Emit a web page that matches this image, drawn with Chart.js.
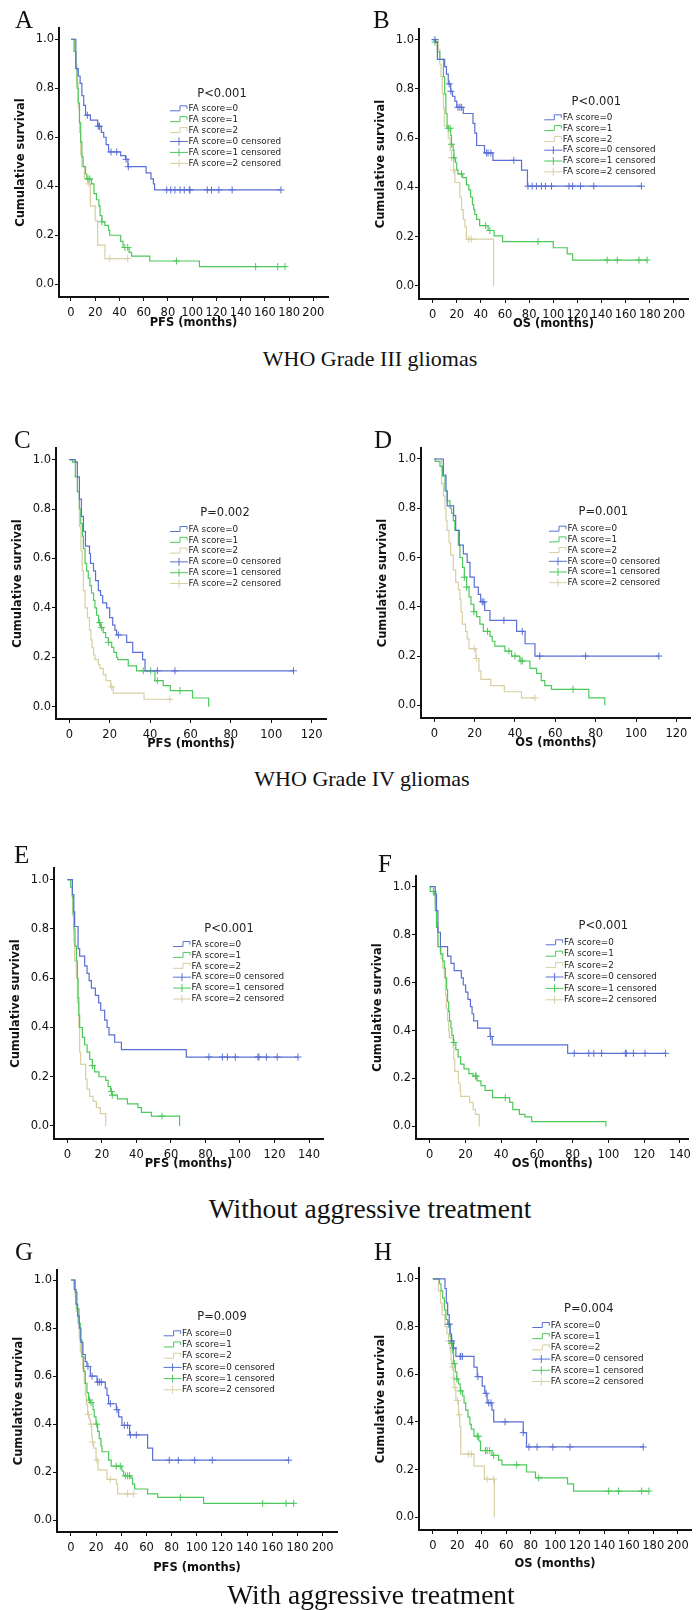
<!DOCTYPE html>
<html>
<head>
<meta charset="utf-8">
<script src="https://cdn.jsdelivr.net/npm/chart.js@4.4.1/dist/chart.umd.min.js"></script>
<style>
  html, body { margin: 0; padding: 0; background: #fff; }
  body { width: 696px; height: 1610px; position: relative; overflow: hidden; }
  canvas { position: absolute; }
  .lbl { position: absolute; font-family: "Liberation Serif", "Times New Roman", serif; line-height: 1; color: #111; white-space: nowrap; }
  .sec { text-align: center; width: 500px; }
</style>
</head>
<body>
<script>
// ---------------- DATA ----------------
const legendLabels = ["FA score=0", "FA score=1", "FA score=2", "FA score=0 censored", "FA score=1 censored", "FA score=2 censored"];
const yTicks = [0, 0.2, 0.4, 0.6, 0.8, 1.0];
const xTicks200 = [0, 20, 40, 60, 80, 100, 120, 140, 160, 180, 200];
const xTicks120 = [0, 20, 40, 60, 80, 100, 120];
const xTicks140 = [0, 20, 40, 60, 80, 100, 120, 140];
const panelLetters = ["A", "B", "C", "D", "E", "F", "G", "H"];
const pValues = ["P<0.001", "P<0.001", "P=0.002", "P=0.001", "P<0.001", "P<0.001", "P=0.009", "P=0.004"];
const xTitles = ["PFS (months)", "OS (months)", "PFS (months)", "OS (months)", "PFS (months)", "OS (months)", "PFS (months)", "OS (months)"];
const yTitle = "Cumulative survival";
const sectionTitles = ["WHO Grade III gliomas", "WHO Grade IV gliomas", "Without aggressive treatment", "With aggressive treatment"];

// Panel A (PFS, grade III)
const A0 = [[0,1],[4,0.88],[6,0.85],[7.5,0.82],[9,0.77],[10.5,0.73],[12,0.69],[16,0.67],[22,0.645],[25,0.62],[27,0.60],[29,0.57],[31,0.54],[41,0.525],[45,0.51],[47,0.48],[62,0.455],[66,0.43],[68,0.41],[69,0.385],[173,0.385]];
const A0c = [13.5,22.5,23.5,33,37.7,45.5,47.3,79,82.3,85.8,90,93.5,97.7,98.2,112.5,116,122,133,173.3];
const A1 = [[0,1],[2.5,0.95],[4,0.88],[5,0.80],[6,0.74],[7,0.66],[8,0.58],[9,0.52],[10,0.48],[12,0.45],[13,0.43],[17,0.41],[19,0.37],[21,0.345],[23,0.32],[24,0.28],[25.5,0.255],[28,0.24],[31,0.22],[32,0.20],[41,0.175],[43,0.15],[48,0.13],[50,0.115],[65,0.095],[106,0.072],[176.6,0.072]];
const A1c = [14,15.5,25.5,44.5,46.8,87,152.4,170.6,176.6];
const A2 = [[0,1],[3,0.95],[4,0.9],[5,0.82],[6,0.72],[7,0.62],[8,0.53],[9,0.48],[11,0.43],[14,0.41],[16,0.32],[20,0.26],[22,0.16],[28,0.105],[46.8,0.105]];
const A2c = [15,32,46.8];

// Panel B (OS, grade III)
const B0 = [[0,1],[2.5,0.99],[4,0.92],[10,0.89],[11.5,0.86],[13,0.82],[15,0.79],[16.5,0.77],[18.5,0.75],[20,0.725],[25.4,0.70],[33.5,0.66],[35,0.62],[36.5,0.57],[43,0.54],[50,0.51],[73.7,0.47],[78.6,0.405],[173,0.405]];
const B0c = [2,13.8,15.2,21,22.6,24,44.7,46,48.3,67.3,79,82.5,86,90.2,93.5,98.5,113,116,122.5,133.5,173];
const B1 = [[0,1],[2,0.99],[4,0.95],[6,0.92],[9,0.85],[10,0.78],[11,0.70],[12,0.64],[15,0.61],[15.7,0.575],[17,0.55],[17.7,0.52],[19,0.50],[20,0.47],[21,0.455],[25,0.44],[28,0.41],[30,0.39],[31.5,0.36],[33,0.33],[34,0.31],[35,0.29],[36.5,0.27],[39,0.245],[46,0.225],[51,0.203],[58,0.18],[100,0.155],[111.5,0.13],[116,0.105],[177.7,0.105]];
const B1c = [2,13,14.5,15.7,17.7,24,44,47.5,87.4,144.6,153,171,177.7];
const B2 = [[0,1],[4.7,0.96],[6,0.9],[7,0.85],[8,0.78],[9,0.72],[9.7,0.65],[13,0.60],[14.5,0.55],[15.7,0.52],[17.4,0.47],[18.5,0.42],[22.6,0.36],[24,0.31],[25.4,0.27],[26.8,0.24],[28,0.19],[50.5,0]];
const B2c = [15.7,17.4,30,32];

// Panel C (PFS, grade IV)
const C0 = [[0,1],[3,0.99],[4,0.93],[5,0.84],[6,0.77],[7,0.71],[8,0.65],[10,0.62],[10.5,0.58],[12,0.55],[13,0.51],[14.4,0.47],[15.5,0.45],[16.5,0.42],[18.5,0.40],[20,0.36],[21.5,0.33],[22.6,0.31],[23.4,0.29],[28.4,0.26],[31.4,0.22],[36.3,0.19],[37.5,0.145],[111,0.145]];
const C0c = [24.3,43.6,52.3,111];
const C1 = [[0,1],[1.6,0.99],[3,0.93],[4,0.87],[5,0.80],[5.7,0.74],[6.5,0.69],[7,0.64],[7.8,0.58],[8.6,0.55],[9.4,0.52],[10.2,0.49],[11,0.46],[12,0.43],[12.7,0.40],[13.5,0.37],[14.5,0.34],[15.5,0.32],[16.8,0.30],[18,0.28],[19.3,0.26],[21,0.24],[22,0.22],[23.4,0.20],[24,0.19],[29.2,0.165],[33.3,0.145],[42.4,0.105],[46.5,0.085],[50,0.065],[61,0.035],[69,0]];
const C1c = [15,16,19.5,36.6,40.3,43.6,54.8];
const C2 = [[0,1],[2.5,0.99],[4,0.87],[5,0.73],[5.8,0.63],[6.4,0.55],[7,0.47],[7.8,0.40],[9,0.36],[10,0.31],[10.7,0.27],[11.3,0.24],[12,0.21],[12.7,0.19],[14.4,0.17],[15.2,0.155],[16.8,0.13],[18.2,0.105],[20.5,0.08],[21.8,0.055],[37,0.03],[49.8,0.03]];
const C2c = [21,49.8];

// Panel D (OS, grade IV)
const D0 = [[0,1],[4.5,0.935],[5.8,0.87],[6.4,0.81],[9.6,0.77],[10.6,0.71],[12.4,0.65],[14.4,0.615],[16.3,0.58],[17.7,0.52],[19.8,0.48],[21.8,0.45],[23,0.42],[25,0.385],[27.6,0.345],[40.8,0.30],[45,0.25],[49.9,0.20],[111.3,0.20]];
const D0c = [23.8,24.6,34.5,43.6,52.3,75,111.3];
const D1 = [[0,1],[0.5,0.99],[2.8,0.97],[4.1,0.93],[5.3,0.87],[6.4,0.83],[7.8,0.80],[8.6,0.78],[9.4,0.75],[10.2,0.71],[11.9,0.65],[12.7,0.60],[14,0.56],[14.9,0.52],[16,0.48],[17.2,0.44],[18.2,0.41],[19.6,0.38],[21,0.36],[22.6,0.33],[24.3,0.30],[27.6,0.28],[28.7,0.26],[30,0.24],[35,0.22],[38.3,0.20],[42.4,0.18],[47.4,0.15],[50.7,0.13],[53,0.10],[54.8,0.08],[58.1,0.065],[76.6,0.03],[84.5,0]];
const D1c = [14.9,16,19.6,26.4,37,40,43,43.6,68.8];
const D2 = [[0,1],[3.6,0.90],[4.5,0.85],[5.3,0.80],[5.8,0.75],[6.3,0.71],[7.3,0.66],[8.1,0.61],[9.4,0.55],[10.6,0.50],[11.9,0.47],[12.7,0.43],[13.2,0.38],[13.9,0.33],[15.5,0.30],[16.3,0.27],[17.2,0.23],[20.6,0.19],[22.1,0.14],[23.1,0.105],[28,0.08],[34.7,0.055],[43.2,0.03],[49.9,0.03]];
const D2c = [19.8,21,49.9];

// Panel E (PFS, without aggressive treatment)
const E0 = [[0,1],[2.9,0.94],[3.7,0.87],[4.2,0.81],[6.2,0.72],[7.1,0.69],[10,0.65],[11.4,0.62],[12.6,0.59],[13.9,0.56],[16.2,0.53],[18.1,0.50],[19.3,0.47],[21.6,0.43],[23,0.40],[24.1,0.37],[27.4,0.34],[31.3,0.31],[68.9,0.28],[133.6,0.28]];
const E0c = [82,89.8,92.7,97.3,110.4,111,115.3,121.6,133.6];
const E1 = [[0,1],[1.9,0.97],[2.9,0.93],[3.3,0.86],[3.9,0.80],[4.4,0.73],[5.2,0.67],[5.8,0.60],[6.2,0.52],[6.6,0.45],[7.1,0.40],[8.7,0.36],[10,0.33],[11.4,0.30],[12.9,0.27],[14.5,0.245],[15.8,0.22],[18.3,0.20],[22.2,0.185],[23.6,0.16],[25.1,0.14],[26,0.125],[29,0.11],[34.8,0.09],[40.9,0.075],[42.9,0.055],[48.7,0.04],[65,0]];
const E1c = [14.5,25.5,26,54.8];
const E2 = [[0,1],[2.9,0.93],[3.3,0.85],[3.7,0.75],[4.2,0.67],[5.2,0.60],[5.8,0.50],[6.6,0.40],[7.1,0.30],[7.7,0.25],[10.6,0.19],[11.4,0.15],[12.9,0.12],[14.9,0.10],[16.8,0.075],[19.1,0.05],[22.2,0]];
const E2c = [];

// Panel F (OS, without aggressive treatment)
const F0 = [[0,1],[3.1,0.97],[3.8,0.90],[4.6,0.81],[6,0.75],[10,0.71],[11.9,0.68],[13.7,0.65],[17.7,0.62],[18.8,0.59],[20.1,0.56],[21.4,0.53],[22.8,0.50],[23.7,0.47],[24.6,0.44],[26.8,0.41],[33.8,0.375],[35,0.34],[77.2,0.305],[132,0.305]];
const F0c = [34.1,80.9,89,91.8,96.2,109.5,110,114,120.5,132];
const F1 = [[0,1],[0.3,0.98],[2.4,0.965],[3.1,0.90],[3.8,0.83],[4.6,0.75],[6,0.72],[7.3,0.69],[8.2,0.66],[8.8,0.62],[9.5,0.57],[10,0.52],[10.6,0.48],[11.1,0.44],[11.9,0.41],[12.4,0.38],[13.3,0.35],[14.6,0.32],[15.9,0.29],[17.3,0.26],[19.2,0.24],[21.9,0.22],[24.3,0.21],[26.5,0.19],[28.7,0.17],[31,0.15],[35.2,0.12],[44.7,0.10],[46.5,0.07],[50.2,0.05],[53.3,0.04],[57.1,0.02],[98.6,0]];
const F1c = [2,13.6,25.6,26,42.3];
const F2 = [[0,1],[2.4,0.97],[3.1,0.93],[3.8,0.85],[4.6,0.75],[6.4,0.70],[7.3,0.66],[8.2,0.62],[8.8,0.55],[9.3,0.49],[10,0.44],[10.6,0.40],[11,0.37],[13.1,0.33],[13.5,0.28],[14,0.23],[16.1,0.18],[17,0.15],[17.3,0.125],[22.4,0.10],[24.3,0.07],[25.6,0.05],[27.7,0]];
const F2c = [];

// Panel G (PFS, with aggressive treatment)
const G0 = [[0,1],[2.6,0.96],[4,0.90],[5.3,0.85],[6.6,0.80],[7.9,0.74],[9.5,0.69],[11.4,0.66],[12.7,0.64],[15.4,0.60],[20.7,0.575],[27.3,0.55],[28.6,0.52],[29.9,0.485],[36,0.46],[37.9,0.43],[40.5,0.395],[46.6,0.355],[60.9,0.30],[64.9,0.25],[173,0.25]];
const G0c = [13.5,16.8,21.2,22.5,24.1,31.3,36.6,42.4,45,47.2,51.9,78.1,85.3,98.3,112.3,173];
const G1 = [[0,1],[3.4,0.95],[4.8,0.88],[6.4,0.82],[7.4,0.75],[8.7,0.68],[10,0.62],[11.4,0.57],[12.7,0.53],[14,0.50],[15.2,0.49],[17.5,0.46],[18.5,0.43],[19.9,0.40],[21.2,0.37],[22.5,0.34],[23.8,0.31],[24.6,0.285],[29.9,0.25],[32,0.225],[40.5,0.205],[41.9,0.185],[47.7,0.175],[49,0.15],[50.6,0.13],[60.9,0.11],[68.9,0.095],[105.4,0.07],[177,0.07]];
const G1c = [14.8,15.9,20.5,36,39.2,43.2,45,46.6,86.9,152.3,170.9,177];
const G2 = [[0,1],[3.4,0.93],[4.2,0.87],[5.3,0.82],[6.6,0.76],[7.4,0.70],[9.3,0.63],[10.6,0.57],[11.4,0.52],[12.2,0.48],[13.2,0.44],[14.5,0.42],[15.4,0.40],[16.5,0.35],[17,0.325],[18,0.30],[19.9,0.25],[21.5,0.21],[28.6,0.17],[36,0.15],[37.1,0.11],[49.8,0.11]];
const G2c = [14,15.9,17.2,20.7,31.3,45,49.8];

// Panel H (OS, with aggressive treatment)
const H0 = [[0,1],[9.9,0.96],[11,0.90],[12.1,0.85],[13.4,0.81],[14.2,0.77],[15.3,0.74],[16.9,0.71],[18.8,0.675],[33.6,0.63],[36.2,0.59],[40.3,0.55],[42.4,0.52],[44.3,0.48],[48.3,0.45],[49.7,0.40],[73.8,0.355],[76.5,0.295],[171.8,0.295]];
const H0c = [13.4,15.5,16.9,22.3,22.8,24.2,36.8,43.5,45.6,47.5,59,73.8,78.5,85.1,98,112,171.8];
const H1 = [[0,1],[5.4,0.98],[6.7,0.95],[8,0.92],[9.4,0.87],[10.7,0.83],[12.1,0.81],[14,0.76],[14.8,0.73],[16.1,0.69],[16.9,0.645],[18.3,0.61],[19.6,0.58],[20.9,0.56],[22.3,0.53],[24.2,0.51],[25.5,0.48],[26.8,0.45],[28.7,0.42],[30.3,0.39],[31.4,0.37],[33.6,0.34],[37.6,0.32],[38.9,0.28],[48.3,0.26],[53.7,0.24],[56.4,0.22],[76.5,0.19],[83.8,0.165],[110,0.14],[114.9,0.11],[176.4,0.11]];
const H1c = [12.6,15.3,17.5,19.6,22.8,36.2,37,43,44.3,46.4,49.7,68.5,86.4,143.6,151.7,170.5,176.4];
const H2 = [[0,1],[4.6,0.95],[6.2,0.90],[7.5,0.85],[9.9,0.80],[11.5,0.77],[12.9,0.74],[14,0.70],[14.8,0.66],[15.6,0.63],[16.9,0.585],[17.4,0.545],[18.8,0.49],[20.9,0.43],[22,0.38],[22.8,0.265],[33.6,0.215],[42.1,0.16],[50.2,0]];
const H2c = [12.9,16,17,18,20.1,21.5,29,31.4,44.3,49.7];

// ---------------- STYLE / LAYOUT ----------------
const colors = ["#5a6fd4", "#4cc95a", "#d8cfa3"];
const FONT = '"DejaVu Sans", Verdana, sans-serif';
const layout = [
  {curves:[A0,A1,A2], cens:[A0c,A1c,A2c], xt:xTicks200, xMin:-9.9, xMax:212.1, yMin:-0.052, yMax:1.046, L:59, T:28, R:328, B:297, gap:25, lx:170, ly:108.3, ldy:10.9, px:222, py:94, letter:[15,28.3]},
  {curves:[B0,B1,B2], cens:[B0c,B1c,B2c], xt:xTicks200, xMin:-11.25, xMax:211.6, yMin:-0.053, yMax:1.043, L:418.7, T:29, R:688, B:299, gap:24, lx:544, ly:117.3, ldy:10.8, px:596, py:101.7, letter:[373,28.3]},
  {curves:[C0,C1,C2], cens:[C0c,C1c,C2c], xt:xTicks120, xMin:-6.58, xMax:127.1, yMin:-0.05, yMax:1.047, L:56, T:448.3, R:326, B:719, gap:24, lx:170, ly:529.3, ldy:10.8, px:225, py:513.3, letter:[14,448.3]},
  {curves:[D0,D1,D2], cens:[D0c,D1c,D2c], xt:xTicks120, xMin:-6.59, xMax:127.1, yMin:-0.0515, yMax:1.0446, L:420.7, T:448.3, R:690.7, B:718.7, gap:24, lx:548.7, ly:529, ldy:10.7, px:603, py:512.7, letter:[374,448.3]},
  {curves:[E0,E1,E2], cens:[E0c,E1c,E2c], xt:xTicks140, xMin:-7.76, xMax:148.1, yMin:-0.0528, yMax:1.0476, L:54.3, T:868.3, R:323.3, B:1139, gap:24, lx:173.3, ly:944.3, ldy:10.9, px:229.3, py:929.3, letter:[14,863.3]},
  {curves:[F0,F1,F2], cens:[F0c,F1c,F2c], xt:xTicks140, xMin:-7.67, xMax:144.8, yMin:-0.0525, yMax:1.0446, L:415.7, T:876, R:694, B:1139.3, gap:24, lx:545.3, ly:942.3, ldy:11.4, px:603, py:926, letter:[378,871.7]},
  {curves:[G0,G1,G2], cens:[G0c,G1c,G2c], xt:xTicks200, xMin:-11.1, xMax:211.4, yMin:-0.049, yMax:1.0417, L:56.7, T:1270, R:336.7, B:1531.7, gap:35, lx:163.3, ly:1333.3, ldy:11.2, px:221.7, py:1316.7, letter:[15,1260]},
  {curves:[H0,H1,H2], cens:[H0c,H1c,H2c], xt:xTicks200, xMin:-11.3, xMax:210.8, yMin:-0.0534, yMax:1.046, L:419, T:1268.3, R:694.7, B:1530, gap:33, lx:532.3, ly:1325.3, ldy:11.2, px:588.7, py:1309.3, letter:[374,1260]}
];
const sectionPos = [[370, 366, 22], [362, 786.7, 22], [370, 1218.3, 27.5], [371, 1604, 27.5]];

// survival value of a step curve at time t (for placing censor marks on the curve)
function survivalAt(curve, t) {
  let s = curve[0][1];
  for (const [ti, si] of curve) { if (ti <= t) s = si; else break; }
  return s;
}

const kmLegend = {
  id: 'kmLegend',
  afterDraw(chart, args, o) {
    const ctx = chart.ctx;
    ctx.save();
    ctx.fillStyle = '#222';
    ctx.textBaseline = 'middle';
    ctx.font = '11.5px ' + FONT;
    ctx.textAlign = 'center';
    ctx.fillText(o.p, o.px - o.ox, o.py - o.oy);
    ctx.font = '8.8px ' + FONT;
    ctx.textAlign = 'left';
    legendLabels.forEach((lab, i) => {
      const x = o.lx - o.ox, y = o.ly - o.oy + i * o.ldy;
      ctx.strokeStyle = colors[i % 3];
      ctx.lineWidth = 1;
      ctx.beginPath();
      if (i < 3) {
        ctx.moveTo(x, y + 2.5); ctx.lineTo(x + 10, y + 2.5); ctx.lineTo(x + 10, y - 2.5);
        ctx.lineTo(x + 17, y - 2.5); ctx.lineTo(x + 17, y + 0.5);
      } else {
        ctx.moveTo(x, y + 0.5); ctx.lineTo(x + 18, y + 0.5);
        ctx.moveTo(x + 9, y - 3.5); ctx.lineTo(x + 9, y + 4.5);
      }
      ctx.stroke();
      ctx.fillStyle = '#222';
      ctx.fillText(lab, x + 18.5, y + 0.5);
    });
    ctx.restore();
  }
};

layout.forEach((P, k) => {
  const cl = P.L - 50, ct = P.T - 12;
  const cr = Math.min(696, P.R + 6);
  const xh = P.gap + 15;
  const cw = Math.round(cr - cl), ch = Math.round(P.B + xh - ct);
  const cv = document.createElement('canvas');
  cv.width = cw; cv.height = ch;
  cv.style.left = cl + 'px'; cv.style.top = ct + 'px';
  cv.style.width = cw + 'px'; cv.style.height = ch + 'px';
  document.body.appendChild(cv);

  const datasets = [];
  P.curves.forEach((c, i) => {
    datasets.push({
      data: c.map(([x, y]) => ({x, y})),
      borderColor: colors[i], borderWidth: 1.2, pointRadius: 0, stepped: 'before',
      fill: false, tension: 0, order: i
    });
  });
  P.cens.forEach((c, i) => {
    datasets.push({
      data: c.map(t => ({x: t, y: survivalAt(P.curves[i], t)})),
      borderColor: colors[i], backgroundColor: colors[i], showLine: false,
      pointStyle: 'cross', pointRadius: 3.5, borderWidth: 1, order: i
    });
  });

  new Chart(cv, {
    type: 'line',
    data: { datasets },
    options: {
      responsive: false, animation: false, devicePixelRatio: 1,
      layout: { padding: { left: 0, top: 12, right: cr - P.R, bottom: 0 } },
      plugins: {
        legend: { display: false }, tooltip: { enabled: false },
        kmLegend: { p: pValues[k], ox: cl, oy: ct, lx: P.lx, ly: P.ly, ldy: P.ldy, px: P.px, py: P.py }
      },
      scales: {
        x: {
          type: 'linear', min: P.xMin, max: P.xMax,
          afterBuildTicks: ax => { ax.ticks = P.xt.map(v => ({value: v})); },
          afterFit: sc => { sc.height = xh; },
          ticks: { autoSkip: false, maxRotation: 0, padding: 5, color: '#111', font: { family: FONT, size: 11.5 }, callback: v => String(v) },
          grid: { display: true, drawOnChartArea: false, drawTicks: true, tickLength: 4, color: '#111', lineWidth: 1 },
          border: { display: true, color: '#111', width: 2 },
          title: { display: true, text: xTitles[k], color: '#111', font: { family: FONT, size: 11.5, weight: 'bold' }, padding: { top: 0, bottom: 7.5 } }
        },
        y: {
          type: 'linear', min: P.yMin, max: P.yMax,
          afterBuildTicks: ax => { ax.ticks = yTicks.map(v => ({value: v})); },
          afterFit: sc => { sc.width = 50; },
          ticks: { autoSkip: false, padding: 1, color: '#111', font: { family: FONT, size: 11.5 }, callback: v => Number(v).toFixed(1) },
          grid: { display: true, drawOnChartArea: false, drawTicks: true, tickLength: 4, color: '#111', lineWidth: 1 },
          border: { display: true, color: '#111', width: 2 },
          title: { display: true, text: yTitle, color: '#111', font: { family: FONT, size: 11.5, weight: 'bold' }, padding: { top: 12 - 6.9, bottom: 0 } }
        }
      }
    },
    plugins: [kmLegend]
  });

  const lt = document.createElement('div');
  lt.className = 'lbl';
  lt.style.fontSize = '25px';
  lt.style.left = P.letter[0] + 'px';
  lt.style.top = (P.letter[1] - 0.8375 * 25) + 'px';
  lt.textContent = panelLetters[k];
  document.body.appendChild(lt);
});

sectionTitles.forEach((t, i) => {
  const [cx, base, fs] = sectionPos[i];
  const d = document.createElement('div');
  d.className = 'lbl sec';
  d.style.fontSize = fs + 'px';
  d.style.left = (cx - 250) + 'px';
  d.style.top = (base - 0.8375 * fs) + 'px';
  d.textContent = t;
  document.body.appendChild(d);
});
</script>
</body>
</html>
